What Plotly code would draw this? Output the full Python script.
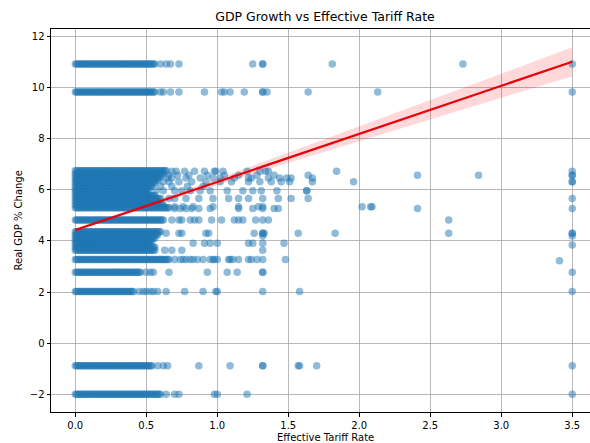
import plotly.graph_objects as go

# ---- data -------------------------------------------------------------
# Observed low tariff values (the crowded block near zero)
fine_tariff = [0.00, 0.01, 0.02, 0.03, 0.04, 0.05, 0.06, 0.07, 0.08, 0.09,
               0.10, 0.11, 0.12, 0.13, 0.14, 0.15, 0.16, 0.17, 0.18, 0.19,
               0.20, 0.21, 0.22, 0.23, 0.24, 0.25, 0.26, 0.27, 0.28, 0.29,
               0.30, 0.31, 0.32, 0.33, 0.34, 0.35, 0.36, 0.37, 0.38, 0.39,
               0.40, 0.41, 0.42, 0.43, 0.44, 0.45, 0.46, 0.47, 0.48, 0.49,
               0.50, 0.51, 0.52, 0.53, 0.54, 0.55, 0.56, 0.57, 0.58, 0.59,
               0.60, 0.61, 0.62, 0.63, 0.64, 0.65, 0.66]

# GDP levels carrying the crowded block, and how far along it each reaches
dense_gdp = [10.91, 9.82, 6.74, 6.62, 6.50, 6.38, 6.26, 6.14, 6.02, 5.90, 5.78,
             5.66, 5.54, 5.42, 5.30, 4.82, 4.36, 4.24, 4.12, 4.00, 3.88, 3.76,
             3.64, 3.28, 2.78, 2.03, -0.87, -1.99]
dense_end = [0.56, 0.56, 0.64, 0.62, 0.60, 0.58, 0.56, 0.54, 0.52, 0.50, 0.56,
             0.60, 0.58, 0.62, 0.66, 0.62, 0.60, 0.58, 0.56, 0.54, 0.52, 0.56,
             0.56, 0.66, 0.46, 0.41, 0.54, 0.60]

# Scattered observations at higher tariff rates
sparse_gdp = [10.91, 9.82, 6.72, 6.57, 6.46, 6.31, 6.14, 5.96, 5.66, 5.34, 5.27,
              4.82, 4.30, 4.19, 3.91, 3.84, 3.64, 3.28, 3.23, 2.78, 2.03,
              -0.87, -1.99]
sparse_tariff = [
    [0.60, 0.64, 0.67, 0.73, 1.25, 1.32, 1.32, 1.81, 2.73, 3.50],
    [0.60, 0.62, 0.67, 0.73, 0.91, 1.03, 1.05, 1.09, 1.19, 1.32, 1.32, 1.35, 1.64, 2.13, 3.50],
    [0.68, 0.71, 0.77, 0.84, 0.91, 0.98, 0.99, 1.04, 1.21, 1.30, 1.34, 1.36, 1.84, 3.50],
    [0.66, 0.72, 0.80, 0.93, 1.05, 1.15, 1.28, 1.40, 1.64, 2.41, 2.84, 3.50, 3.50],
    [0.65, 0.68, 0.78, 0.88, 0.97, 1.02, 1.12, 1.22, 1.24, 1.36, 1.44, 1.49, 1.52, 1.67],
    [0.62, 0.66, 0.73, 0.82, 0.92, 1.02, 1.10, 1.22, 1.30, 1.38, 1.45, 1.51, 1.67, 1.96, 3.50, 3.50],
    [0.60, 0.68, 0.79, 0.90],
    [0.57, 0.62, 0.70, 0.75, 0.81, 0.88, 0.95, 1.07, 1.18, 1.25, 1.31, 1.42, 1.63, 1.63],
    [0.66, 0.70, 0.78, 0.87, 0.97, 1.08, 1.15, 1.22, 1.32, 1.43, 1.52, 1.64, 3.50],
    [0.70, 0.76, 0.83, 0.97, 1.15, 1.29, 1.32, 2.02, 2.08, 2.09],
    [0.70, 0.74, 0.78, 0.82, 0.87, 0.95, 1.15, 1.25, 1.32, 1.40, 1.43, 2.41, 3.50],
    [0.68, 0.73, 0.75, 0.81, 0.84, 0.87, 0.96, 1.03, 1.12, 1.15, 1.18, 1.27, 1.32, 1.36, 2.63],
    [0.64, 0.73, 0.75, 0.92, 0.94, 1.26, 1.32, 1.32, 1.33, 1.57, 1.83, 2.63, 3.50, 3.50],
    [1.32, 3.50],
    [0.83, 0.91, 0.95, 1.00, 1.22, 1.25, 1.32, 1.47],
    [3.50],
    [0.63, 0.68, 0.75, 1.32],
    [0.70, 0.74, 0.76, 0.78, 0.81, 0.83, 0.86, 0.90, 0.95, 0.97, 0.98, 1.00, 1.08, 1.09,
     1.11, 1.15, 1.22, 1.24, 1.28, 1.32, 1.48],
    [3.41],
    [0.50, 0.53, 0.55, 0.66, 0.93, 1.07, 1.14, 1.32, 1.32, 3.50],
    [0.45, 0.48, 0.50, 0.53, 0.55, 0.58, 0.64, 0.77, 0.90, 0.99, 1.00, 1.32, 1.58, 3.50],
    [0.58, 0.62, 0.65, 0.87, 1.09, 1.32, 1.32, 1.57, 1.58, 1.70, 3.50],
    [0.64, 0.70, 0.73, 0.98, 1.00, 1.21, 3.50],
]

# Fitted regression line and its confidence band
fit_tariff = [0.0, 0.5, 1.0, 1.5, 2.0, 2.5, 3.0, 3.5]
fit_gdp = [4.43, 5.37, 6.31, 7.25, 8.18, 9.12, 10.06, 11.00]
fit_halfwidth = [0.07, 0.07, 0.12, 0.20, 0.28, 0.37, 0.47, 0.57]

x_ticks = [0.0, 0.5, 1.0, 1.5, 2.0, 2.5, 3.0, 3.5]
y_ticks = [-2, 0, 2, 4, 6, 8, 10, 12]

# ---- assemble scatter points -----------------------------------------
pts_x, pts_y = [], []
for level, end in zip(dense_gdp, dense_end):
    for t in fine_tariff:
        if t <= end + 1e-9:
            pts_x.append(t)
            pts_y.append(level)
for level, row in zip(sparse_gdp, sparse_tariff):
    for t in row:
        pts_x.append(t)
        pts_y.append(level)

band_upper = [g + h for g, h in zip(fit_gdp, fit_halfwidth)]
band_lower = [g - h for g, h in zip(fit_gdp, fit_halfwidth)]

fig = go.Figure()
fig.add_trace(go.Scatter(
    x=pts_x, y=pts_y, mode="markers",
    marker=dict(size=7.5, color="#1f77b4", opacity=0.5, line=dict(width=0)),
    showlegend=False, hoverinfo="skip",
))
fig.add_trace(go.Scatter(
    x=fit_tariff + fit_tariff[::-1], y=band_upper + band_lower[::-1],
    fill="toself", fillcolor="rgba(255,0,0,0.15)", line=dict(width=0),
    mode="lines", showlegend=False, hoverinfo="skip",
))
fig.add_trace(go.Scatter(
    x=fit_tariff, y=fit_gdp, mode="lines",
    line=dict(color="#e8000b", width=2.2), showlegend=False,
))

font = "DejaVu Sans, Arial, sans-serif"
axis_common = dict(
    showgrid=True, gridcolor="rgba(160,160,160,0.75)", gridwidth=0.8, zeroline=False,
    showline=True, linecolor="#000000", linewidth=1,
    ticks="outside", ticklen=3.5, tickwidth=0.8, tickcolor="#000000",
    tickfont=dict(family=font, size=10, color="#000000"),
    layer="above traces",
)
fig.update_xaxes(range=[-0.171, 3.625], tickvals=x_ticks, tickformat=".1f",
                 mirror=True, **axis_common)
fig.update_yaxes(range=[-2.68, 12.28], tickvals=y_ticks, tickformat="d",
                 mirror=False, **axis_common)

fig.update_layout(
    width=590, height=443,
    margin=dict(l=51, r=0, t=29, b=31),
    plot_bgcolor="white", paper_bgcolor="white",
    font=dict(family=font, color="#000000"),
    title=dict(text="GDP Growth vs Effective Tariff Rate",
               x=325 / 590, xref="container", xanchor="center",
               y=1 - 17 / 443, yref="container", yanchor="middle",
               font=dict(family=font, size=12.5, color="#000000")),
    annotations=[
        dict(text="Effective Tariff Rate", xref="paper", yref="paper",
             x=(325 - 51) / 539, y=(412 - 437) / 383, xanchor="center",
             yanchor="middle", showarrow=False,
             font=dict(family=font, size=10, color="#000000")),
        dict(text="Real GDP % Change", xref="paper", yref="paper",
             x=(18 - 51) / 539, y=0.5, textangle=-90, xanchor="center",
             yanchor="middle", showarrow=False,
             font=dict(family=font, size=10, color="#000000")),
    ],
)

fig.write_html("out.html")
